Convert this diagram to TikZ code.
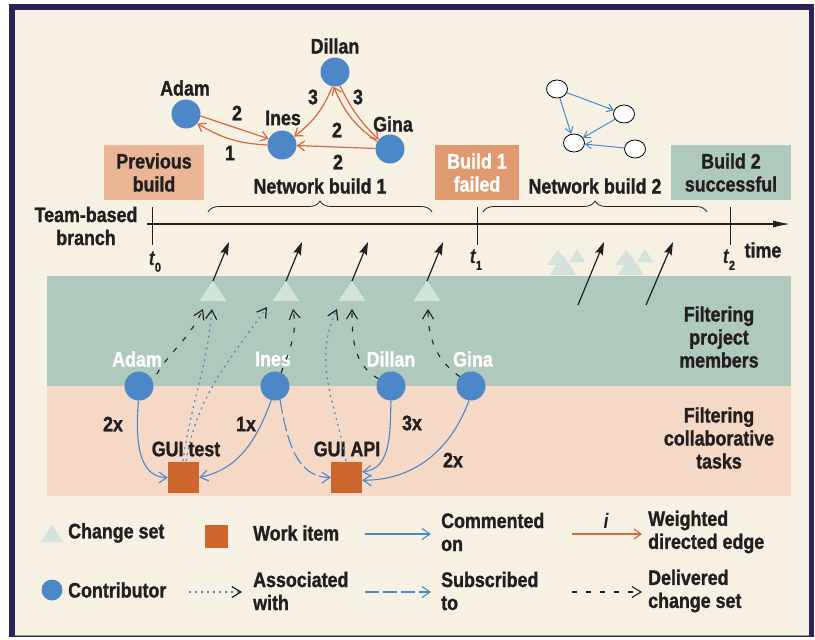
\documentclass[tikz,border=0pt]{standalone}
\usepackage{fontspec}
\setmainfont{Liberation Sans}[FakeStretch=0.85, BoldFeatures={FakeBold=1.2}]
\usetikzlibrary{arrows.meta,decorations.pathreplacing,shapes.geometric}
\definecolor{framec}{HTML}{2E2159}
\definecolor{cream}{HTML}{F7F1E4}
\definecolor{bandgreen}{HTML}{AFC9BC}
\definecolor{bandpink}{HTML}{F5D8C6}
\definecolor{nodeblue}{HTML}{4C87C8}
\definecolor{workorange}{HTML}{CD652F}
\definecolor{prevbox}{HTML}{EBB696}
\definecolor{failbox}{HTML}{E09A6F}
\definecolor{tri}{HTML}{D3E3DC}
\definecolor{rededge}{HTML}{D9673E}
\definecolor{txt}{HTML}{231F20}
\definecolor{lineblue}{HTML}{4A88CC}
\newcommand\lbf{\fontsize{21}{23}\selectfont\bfseries}
\newcommand\tsub[1]{{\itshape t}\raisebox{-6pt}{\fontsize{13}{13}\selectfont #1}}
% apex x, apex y, width, height
\newcommand\cstri[4]{\fill[tri] (#1,#2) -- ({#1+#3/2},{#2+#4}) -- ({#1-#3/2},{#2+#4}) -- cycle;}
\tikzset{
 lbl/.style={font=\lbf, text=txt, inner sep=0pt, align=center},
 wlbl/.style={lbl, text=white},
 lgd/.style={lbl, anchor=west, align=left},
 contrib/.style={circle, fill=nodeblue, minimum size=29pt, inner sep=0pt},
 smallc/.style={ellipse, draw=black, fill=white, line width=0.8pt, minimum width=21pt, minimum height=18pt, inner sep=0pt},
 workitem/.style={fill=workorange, minimum size=31pt, inner sep=0pt},
 buildbox/.style={minimum width=100pt, minimum height=55pt, inner sep=0pt, font=\lbf, align=center},
 redge/.style={draw=rededge, line width=1.2pt, -{Straight Barb[length=7pt,width=10pt]}},
 commented/.style={draw=lineblue, line width=1.1pt, -{Straight Barb[length=8pt,width=11pt]}},
 subscribed/.style={commented, dash pattern=on 14pt off 4pt},
 associated/.style={draw=lineblue, line width=1.2pt, dash pattern=on 2pt off 4pt, -{Straight Barb[length=9pt,width=11pt,color=txt]}},
 delivered/.style={draw=txt, line width=1.1pt, dash pattern=on 5pt off 9pt, -{Straight Barb[length=9pt,width=11pt]}},
 cslink/.style={draw=txt, line width=1.2pt, -{Stealth[length=13pt,width=8pt,inset=2pt]}},
 smalle/.style={draw=lineblue, line width=1pt, -{Straight Barb[length=6pt,width=8pt]}},
 tick/.style={draw=txt, line width=0.9pt},
}
\begin{document}
\begin{tikzpicture}[x=1pt,y=-1pt]
\useasboundingbox (0,0) rectangle (815,640);
% frame
\fill[white] (0,0) rectangle (815,640);
\fill[framec] (9,4) rectangle (814,637);
\fill[cream] (15,10) rectangle (809,634.5);
\draw[gray!80, line width=1.5pt] (15,635.5) -- (809,635.5);
% bands
\fill[bandgreen] (47,276) rectangle (791,386);
\fill[bandpink] (47,386) rectangle (791,496);

% ---------- top network (build 1)
\node[contrib] (adamT) at (186,114) {};
\node[lbl] (adamTl) at (185,88) {Adam};
\node[contrib] (inesT) at (282,145) {};
\node[lbl] (inesTl) at (283,118) {Ines};
\node[contrib] (dillanT) at (335,72) {};
\node[lbl] (dillanTl) at (335,46) {Dillan};
\node[contrib] (ginaT) at (390,149) {};
\node[lbl] (ginaTl) at (393,124) {Gina};

\draw[redge] (adamT.-8) -- (inesT.155);
\draw[redge] (inesT.180) to[bend left=14] (adamT.-40);
\draw[redge] (dillanT.-100) to[bend left=15] (inesT.35);
\draw[redge] (dillanT.-70) to[bend right=10] (ginaT.140);
\draw[redge] (ginaT.150) to[bend left=16] (dillanT.-95);
\draw[redge] (ginaT) -- (inesT);

\node[lbl] (w1) at (237,113) {2};
\node[lbl] (w2) at (230,153) {1};
\node[lbl] (w3) at (313,97) {3};
\node[lbl] (w4) at (358,97) {3};
\node[lbl] (w5) at (337,130) {2};
\node[lbl] (w6) at (338,162) {2};

% ---------- network build 2 (small graph)
\node[smallc] (s1) at (557,89) {};
\node[smallc] (s2) at (624,114) {};
\node[smallc] (s3) at (574,143) {};
\node[smallc] (s4) at (635,149) {};
\draw[smalle] (s1) -- (s2);
\draw[smalle] (s1) -- (s3);
\draw[smalle] (s2) -- (s3);
\draw[smalle] (s4) -- (s3);

% ---------- builds
\node[buildbox, fill=prevbox, text=txt] (prev) at (154,172.5) {Previous\\build};
\node[buildbox, fill=failbox, text=white, minimum width=84pt] (fail) at (477,172.5) {Build 1\\failed};
\node[buildbox, fill=bandgreen, text=txt, minimum width=120pt] (succ) at (731,172.5) {Build 2\\successful};

\node[lbl] (nb1) at (320,186) {Network build 1};
\node[lbl] (nb2) at (595,186) {Network build 2};
\draw[decorate, decoration={brace, amplitude=11pt}, draw=txt, line width=0.8pt] (208,212) -- (432,212);
\draw[decorate, decoration={brace, amplitude=11pt}, draw=txt, line width=0.8pt] (483,212) -- (707,212);

% ---------- timeline
\coordinate (tlstart) at (147,224);
\coordinate (tlend) at (790,224);
\draw[draw=txt, line width=1.2pt, -{Latex[length=17pt,width=7pt]}] (tlstart) -- (tlend);
\draw[tick] (152,207) -- (152,245);
\draw[tick] (477,207) -- (477,245);
\draw[tick] (730,207) -- (730,245);
\node[lbl] (t0) at (155,262) {\tsub{0}};
\node[lbl] (t1) at (476,260) {\tsub{1}};
\node[lbl] (t2) at (729,260) {\tsub{2}};
\node[lbl] (timel) at (763,250) {time};
\node[lbl] (branch) at (86,226) {Team-based\\branch};

% ---------- change sets near the timeline (after t1)
\cstri{558}{250}{22}{15}
\cstri{577}{249}{16}{13}
\cstri{563}{255}{26}{20}
\cstri{626}{250}{22}{15}
\cstri{645}{249}{16}{13}
\cstri{631}{255}{26}{20}

% ---------- change sets in the band
\cstri{213}{281}{27}{20}
\cstri{286}{281}{27}{20}
\cstri{352}{281}{27}{20}
\cstri{427}{281}{27}{20}
\coordinate (cs1) at (213,281);
\coordinate (cs2) at (286,281);
\coordinate (cs3) at (352,281);
\coordinate (cs4) at (427,281);
\coordinate (e1) at (229,242);
\coordinate (e2) at (302,242);
\coordinate (e3) at (368,242);
\coordinate (e4) at (443,242);
\coordinate (f5) at (578,305);
\coordinate (e5) at (604,242);
\coordinate (f6) at (646,305);
\coordinate (e6) at (673,242);
\draw[cslink] (cs1) -- (e1);
\draw[cslink] (cs2) -- (e2);
\draw[cslink] (cs3) -- (e3);
\draw[cslink] (cs4) -- (e4);
\draw[cslink] (f5) -- (e5);
\draw[cslink] (f6) -- (e6);

% ---------- contributors and work items
\node[contrib] (adam) at (139,386) {};
\node[wlbl] (adaml) at (137,359) {Adam};
\node[contrib] (ines) at (275,386) {};
\node[wlbl] (inesl) at (273,359) {Ines};
\node[contrib] (dillan) at (391,386) {};
\node[wlbl] (dillanl) at (391,359) {Dillan};
\node[contrib] (gina) at (471,386) {};
\node[wlbl] (ginal) at (473,359) {Gina};

\node[workitem] (guitest) at (183.5,477.5) {};
\node[lbl] (guitestl) at (186,449) {GUI test};
\node[workitem] (guiapi) at (346.5,477.5) {};
\node[lbl] (guiapil) at (347,449) {GUI API};

\node[lbl] (x1) at (113,424) {2x};
\node[lbl] (x2) at (246,424) {1x};
\node[lbl] (x3) at (412,423) {3x};
\node[lbl] (x4) at (453,460) {2x};

\node[lbl] (fpm) at (719,337) {Filtering\\project\\members};
\node[lbl] (fct) at (719,438) {Filtering\\collaborative\\tasks};

% commented / subscribed
\draw[commented] (adam.268) to[out=265,in=180] (guitest.west);
\draw[commented] (ines.255) to[out=250,in=12] (guitest.east);
\draw[subscribed] (ines.290) to[out=280,in=180] (guiapi.west);
\draw[commented] (dillan.270) to[out=268,in=5] (guiapi.20);
\draw[commented] (gina.262) to[out=250,in=0] (guiapi.-10);

% associated (dotted)
\coordinate (a1) at (212,309);
\coordinate (a2) at (267,307);
\coordinate (a3) at (337,309);
\coordinate (gt1) at (183,461);
\coordinate (gt2) at (186,461);
\coordinate (ga1) at (346,461);
\draw[associated] (gt1) to[out=82,in=265] (a1);
\draw[associated] (gt2) to[out=80,in=235] (a2);
\draw[associated] (ga1) to[out=100,in=245] (a3);

% delivered (black dashed)
\coordinate (d1) at (203,309);
\coordinate (d2) at (293,309);
\coordinate (d3) at (352,309);
\coordinate (d4) at (428,309);
\draw[delivered, shorten <=8pt] (adam.20) to[out=60,in=245] (d1);
\draw[delivered] (ines.65) to[out=70,in=280] (d2);
\draw[delivered] (dillan.150) to[out=150,in=270] (d3);
\draw[delivered] (gina.140) to[out=145,in=270] (d4);

% ---------- legend
\cstri{52}{525}{23}{17}
\coordinate (lcs) at (52,533);
\node[lgd] (lcst) at (68,533) {Change set};
\node[workitem, minimum size=23pt] (lwi) at (216.5,536.5) {};
\node[lgd] (lwit) at (253,533) {Work item};
\coordinate (lc1) at (365,534);
\coordinate (lc2) at (431,534);
\draw[commented] (lc1) -- (lc2);
\node[lgd] (lct) at (441,532) {Commented\\on};
\coordinate (lr1) at (572,534);
\coordinate (lr2) at (642,534);
\draw[redge] (lr1) -- (lr2);
\node[lbl, font=\lbf\itshape] (li) at (606,521) {i};
\node[lgd] (lrt) at (648,532) {Weighted\\directed edge};

\node[contrib, minimum size=21pt] (lco) at (52,590) {};
\node[lgd] (lcot) at (68,590) {Contributor};
\coordinate (la1) at (189,592);
\coordinate (la2) at (242,592);
\draw[associated] (la1) -- (la2);
\node[lgd] (lat) at (253,591) {Associated\\with};
\coordinate (ls1) at (365,592);
\coordinate (ls2) at (431,592);
\draw[subscribed] (ls1) -- (ls2);
\node[lgd] (lst) at (441,591) {Subscribed\\to};
\coordinate (ld1) at (572,592);
\coordinate (ld2) at (642,592);
\draw[delivered] (ld1) -- (ld2);
\node[lgd] (ldt) at (648,591) {Delivered\\change set};
\end{tikzpicture}
\end{document}
